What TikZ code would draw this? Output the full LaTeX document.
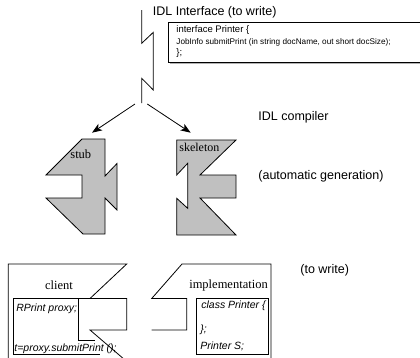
\documentclass[tikz,border=0pt]{standalone}
\usepackage{fontspec}
\setmainfont{Liberation Serif}
\setsansfont{Liberation Sans}
\usetikzlibrary{arrows.meta}
\definecolor{shade}{RGB}{192,192,192}
\begin{document}
\begin{tikzpicture}[x=1pt,y=-1pt,line width=0.8pt,
  lbl/.style={inner sep=0pt,anchor=west,font=\sffamily\fontsize{12.5}{14}\selectfont},
  code/.style={inner sep=0pt,anchor=west,font=\sffamily\fontsize{9.5}{11}\selectfont},
  smallcode/.style={inner sep=0pt,anchor=west,font=\sffamily\fontsize{8.2}{10}\selectfont},
  icode/.style={inner sep=0pt,anchor=west,font=\sffamily\itshape\fontsize{10.5}{12}\selectfont},
  rname/.style={inner sep=0pt,font=\rmfamily\fontsize{12.5}{14}\selectfont},
  part/.style={draw=black,fill=shade,line join=miter},
  gen/.style={-{Stealth[length=10pt,width=7.5pt,inset=2.5pt]}}]
\useasboundingbox (0,0) rectangle (420,357);

% IDL source box with its shadow
\fill[gray!60] (169.8,24.2) rectangle (432,63.8);
\draw[fill=white] (168.3,22.7) rectangle (430,62.3);
\node[lbl] (title) at (152.5,12) {IDL Interface (to write)};
\node[code] (l1) at (176,30) {interface Printer \{};
\node[smallcode] (l2) at (176,42) {JobInfo submitPrint (in string docName, out short docSize);};
\node[code] (l3) at (176,53) {\};};

% broken line from the interface down to the compiler
\coordinate (src) at (141.7,10);
\coordinate (fork) at (141.7,103);
\draw[line join=miter] (src) -- (141.7,43.3) -- (153.3,32.3) -- (153.3,90) -- (141.7,78.3) -- (fork);
\coordinate (lstart) at (135,104);
\coordinate (rstart) at (147.3,104);
\coordinate (ltip) at (92,132.7);
\coordinate (rtip) at (190.7,132.7);
\draw[gen] (lstart) -- (ltip);
\draw[gen] (rstart) -- (rtip);
\node[lbl] (comp) at (258,117) {IDL compiler};

% generated stub
\draw[part] (82,139) -- (105,139) -- (105,176) -- (117,163.5) -- (117,210) -- (105,198)
  -- (105,234) -- (83,234) -- (46,198) -- (82,198) -- (82,175) -- (46,175) -- cycle;
\node[rname,anchor=west] (stub) at (70,154) {stub};

% generated skeleton
\draw[part] (176.7,140) -- (236,140) -- (200,175) -- (236,175) -- (236,198) -- (200,198)
  -- (236,235) -- (176.7,235) -- (176.7,198.3) -- (187.7,208.3) -- (187.7,163.3)
  -- (176.7,175) -- cycle;
\node[rname,anchor=west,font=\rmfamily\fontsize{12}{14}\selectfont] (skel) at (179,147.5) {skeleton};
\node[lbl] (auto) at (258,176) {(automatic generation)};

% client frame
\draw[line join=miter] (8.3,360) -- (8.3,264) -- (126.7,264) -- (90,298.5) -- (126.7,298.5)
  -- (126.7,330) -- (90,330) -- (125,360);
\node[rname] (client) at (59,285) {client};
\draw (13.3,298.5) -- (13.3,354) -- (100,354);
\draw (13.3,298.5) -- (90,298.5);
\draw (78.3,298.5) -- (78.3,340) -- (95,340);
\node[icode] (proxy) at (16,309) {RPrint proxy;};
\node[icode] (call) at (14,348.5) {t=proxy.submitPrint ();};

% implementation frame
\draw[line join=miter] (271,360) -- (271,264) -- (182,264) -- (151.7,298.5) -- (186.7,298.5)
  -- (186.7,330) -- (151.7,330);
\node[rname] (impl) at (228.5,285) {implementation};
\draw (196.7,298.5) rectangle (268.3,354);
\node[icode] (cls) at (201,306) {class Printer \{};
\node[icode] (cend) at (200,330) {\};};
\node[icode] (obj) at (200,346) {Printer S;};
\node[lbl] (write) at (300,270) {(to write)};
\end{tikzpicture}
\end{document}
